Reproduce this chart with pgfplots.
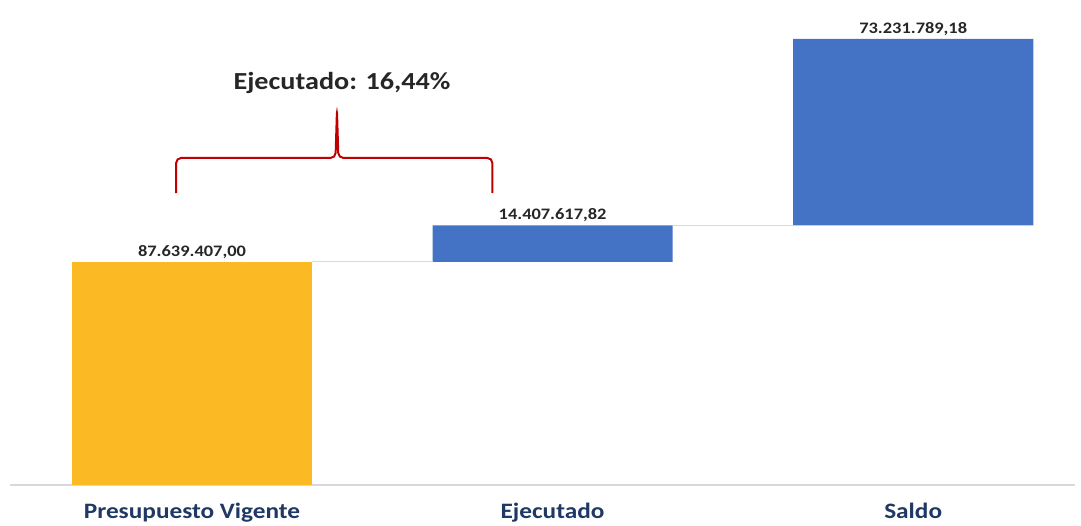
\documentclass[border=0pt]{standalone}
\usepackage{fontspec}
\setmainfont{Carlito}[FakeStretch=1.15]
\usepackage{pgfplots}
\pgfplotsset{compat=1.18}
\definecolor{cyel}{HTML}{FBB924}
\definecolor{cblue}{HTML}{4472C4}
\definecolor{cnavy}{HTML}{1F3864}
\definecolor{ctxt}{HTML}{262626}
\definecolor{cred}{HTML}{C00000}
\definecolor{cgrid}{HTML}{D9D9D9}
\begin{document}
\begin{tikzpicture}
\begin{axis}[
  scale only axis, width=1065pt, height=485pt,
  xmin=-0.5047, xmax=2.4487, ymin=0, ymax=190.57,
  clip=false,
  axis x line*=bottom, axis y line=none,
  x axis line style={cgrid, line width=1.5pt, -},
  xtick={0,1,2}, xticklabels={Presupuesto Vigente, Ejecutado, Saldo},
  xtick style={draw=none},
  xticklabel style={anchor=base, yshift=-33pt, text=cnavy, font=\fontsize{22}{26}\selectfont\bfseries},
  ytick=\empty,
  ybar stacked, bar width=0.666,
]
% invisible base
\addplot[draw=none, fill=none] coordinates {(0,0) (1,87.639407) (2,102.0470248)};
% yellow: presupuesto vigente
\addplot[draw=none, fill=cyel] coordinates {(0,87.639407) (1,0) (2,0)};
% blue: ejecutado, saldo
\addplot[draw=none, fill=cblue] coordinates {(0,0) (1,14.4076178) (2,73.2317892)};
\end{axis}
\begin{axis}[
  scale only axis, width=1065pt, height=485pt,
  xmin=-0.5047, xmax=2.4487, ymin=0, ymax=190.57,
  clip=false, axis lines=none, ticks=none,
]
\addplot[cgrid, line width=1pt] coordinates {(0.333,87.639407) (0.667,87.639407)};
\addplot[cgrid, line width=1pt] coordinates {(1.333,102.0470248) (1.667,102.0470248)};
\addplot[draw=none, mark=none,
  point meta=explicit symbolic,
  nodes near coords,
  every node near coord/.append style={anchor=south, text=ctxt, font=\fontsize{16}{19}\selectfont\bfseries, inner sep=2pt, yshift=1pt}]
  table[meta=lab] {
x y lab
0 87.639407 87.639.407,00
1 102.0470248 14.407.617,82
2 175.278814 73.231.789,18
};
\addplot[cred, line width=2pt, rounded corners=5pt] coordinates {
(-0.044,114.7) (-0.044,128.5) (0.398,128.5) (0.402,147.3) (0.406,128.5) (0.833,128.5) (0.833,114.7)};
\node[text=ctxt, font=\fontsize{24.5}{28}\selectfont\bfseries] at (axis cs:0.416,158) {Ejecutado: 16,44\%};
\end{axis}
\path[use as bounding box] (-10pt,-40pt) rectangle (1071pt,485pt);
\end{tikzpicture}
\end{document}
